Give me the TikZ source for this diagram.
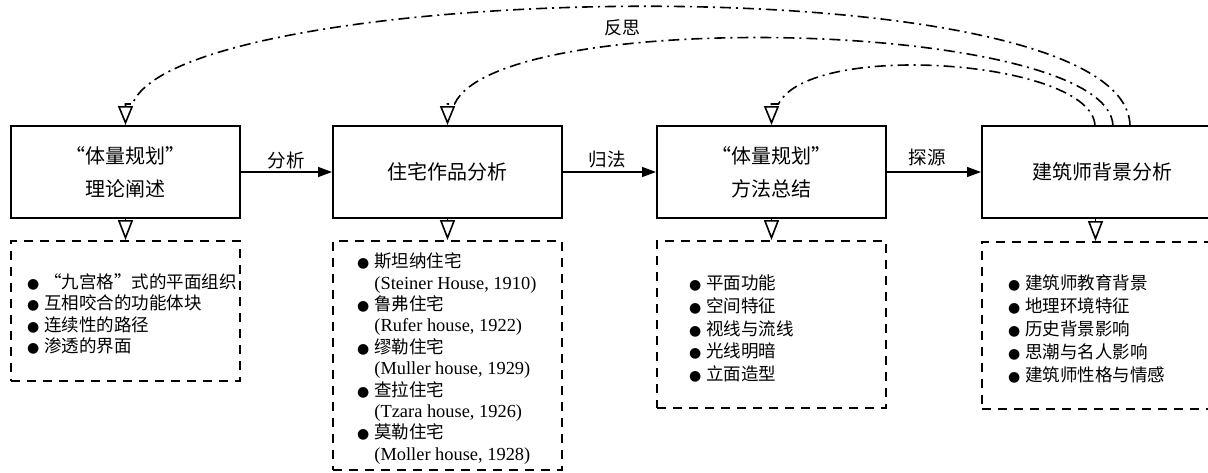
\documentclass[tikz,border=0pt]{standalone}
\usepackage{fontspec}
\setmainfont{Liberation Serif}
\newfontfamily\cjk{Noto Sans CJK SC}
\newfontfamily\dejavu{DejaVu Sans}
\usetikzlibrary{arrows.meta}
\newcommand\bul{{\dejavu\fontsize{14}{14}\selectfont ●}\hspace{5pt}}
\newcommand\lat[1]{{\rmfamily\fontsize{18.4}{21.4}\selectfont #1}}
\begin{document}
\begin{tikzpicture}[x=1pt,y=-1pt,
  mainbox/.style={draw, line width=2pt, minimum width=229pt, minimum height=92pt,
    inner sep=0pt, align=center, font=\cjk\fontsize{20}{33}\selectfont},
  listbox/.style={draw, dash pattern=on 9pt off 7pt, line width=1.8pt,
    minimum width=229pt, inner sep=0pt},
  listtext/.style={align=left, inner sep=0pt, anchor=west},
  flow/.style={-{Triangle[length=14pt,width=10pt]}, line width=1.4pt},
  down/.style={-{Triangle[open,length=20pt,width=15pt]}, line width=1.6pt},
  back/.style={-{Triangle[open,length=19pt,width=15pt]}, line width=1.6pt,
    dash pattern=on 11pt off 5pt on 2pt off 5pt},
  lab/.style={font=\cjk\fontsize{18.5}{18.5}\selectfont, inner sep=0pt}]
\useasboundingbox (0,0) rectangle (1208,472);

% main boxes
\node[mainbox] (b1) at (125.5,172) {“体量规划”\\理论阐述};
\node[mainbox] (b2) at (447.5,172) {住宅作品分析};
\node[mainbox] (b3) at (771.5,172) {“体量规划”\\方法总结};
\node[mainbox, minimum width=240pt, anchor=west, text width=229pt] (b4) at (981,172) {建筑师背景分析};

% dashed list boxes
\node[listbox, minimum height=140pt] (d1) at (125.5,311) {};
\node[listbox, minimum height=229pt] (d2) at (447.5,355.5) {};
\node[listbox, minimum height=167pt] (d3) at (771.5,324.5) {};
\node[listbox, minimum height=167pt, minimum width=240pt, anchor=north west] (d4) at (981,241) {};
\coordinate (d4top) at (1095.5,241);
\coordinate (b4bot) at (1095.5,218);
\coordinate (b4top) at (1095.5,126);

% list texts
\node[listtext, font=\cjk\fontsize{17.5}{21.5}\selectfont] (t1) at (27,314) {%
\bul “九宫格”式的平面组织\\
\bul 互相咬合的功能体块\\
\bul 连续性的路径\\
\bul 渗透的界面};
\node[listtext, font=\cjk\fontsize{17.5}{21.4}\selectfont] (t2) at (357,358.5) {%
\bul 斯坦纳住宅\\
\hphantom{\bul}\lat{(Steiner House, 1910)}\\
\bul 鲁弗住宅\\
\hphantom{\bul}\lat{(Rufer house, 1922)}\\
\bul 缪勒住宅\\
\hphantom{\bul}\lat{(Muller house, 1929)}\\
\bul 查拉住宅\\
\hphantom{\bul}\lat{(Tzara house, 1926)}\\
\bul 莫勒住宅\\
\hphantom{\bul}\lat{(Moller house, 1928)}};
\node[listtext, font=\cjk\fontsize{17.5}{22.8}\selectfont] (t3) at (689,328.5) {%
\bul 平面功能\\
\bul 空间特征\\
\bul 视线与流线\\
\bul 光线明暗\\
\bul 立面造型};
\node[listtext, font=\cjk\fontsize{17.5}{23}\selectfont] (t4) at (1008,329) {%
\bul 建筑师教育背景\\
\bul 地理环境特征\\
\bul 历史背景影响\\
\bul 思潮与名人影响\\
\bul 建筑师性格与情感};

% box to list arrows
\draw[down] (b1.south) -- (d1.north);
\draw[down] (b2.south) -- (d2.north);
\draw[down] (b3.south) -- (d3.north);
\draw[down] (b4bot) -- (d4top);

% flow arrows
\draw[flow] (b1.east) -- (b2.west);
\draw[flow] (b2.east) -- (b3.west);
\draw[flow] (b3.east) -- (b4.west);
\node[lab] (l1) at (286,160) {分析};
\node[lab] (l2) at (607,160) {归法};
\node[lab] (l3) at (927,157) {探源};

% feedback curves
\coordinate (s1) at ([xshift=34.5pt]b4top);
\coordinate (s2) at ([xshift=17.5pt]b4top);
\coordinate (s3) at ([xshift=-0.5pt]b4top);
\draw[back] (s1) .. controls (1128,-40) and (180,-20) .. ([xshift=7pt,yshift=21pt]b1.north)
  -- ([yshift=21pt]b1.north) -- (b1.north);
\draw[back] (s2) .. controls (1110,20) and (500,5) .. ([xshift=7pt,yshift=21pt]b2.north)
  -- ([yshift=21pt]b2.north) -- (b2.north);
\draw[back] (s3) .. controls (1093,60) and (810,40) .. ([xshift=7pt,yshift=21pt]b3.north)
  -- ([yshift=21pt]b3.north) -- (b3.north);
\node[lab, font=\cjk\fontsize{18}{18}\selectfont] (l4) at (622,28) {反思};
\end{tikzpicture}
\end{document}
